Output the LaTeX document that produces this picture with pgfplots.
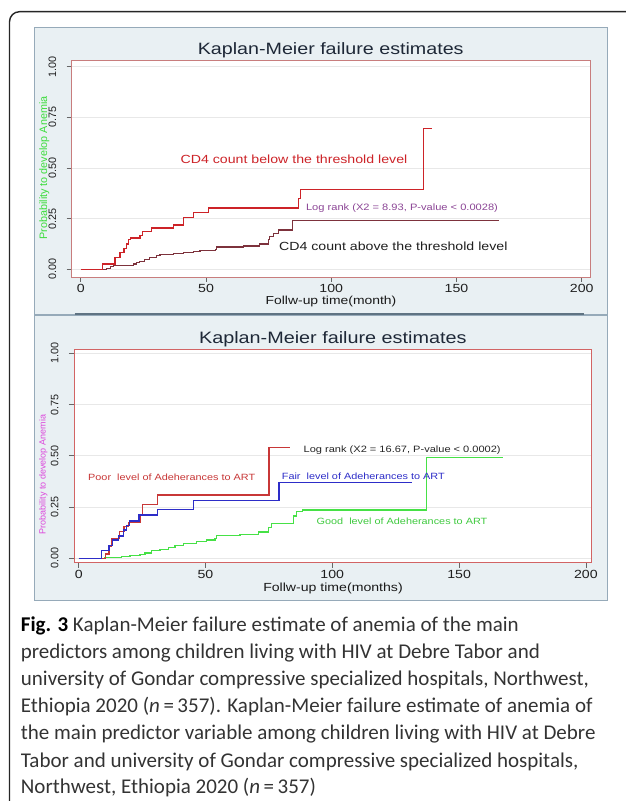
\documentclass[border=0pt]{standalone}
\usepackage{pgfplots}
\pgfplotsset{compat=1.18}
\usepackage{fontspec}
\setmainfont{Carlito}
\newfontfamily\st[FakeStretch=1.2]{Liberation Sans}
\newfontfamily\sr{Liberation Sans}
\newfontfamily\capfont{Carlito}
\definecolor{bgcol}{RGB}{233,240,243}
\definecolor{bgline}{RGB}{150,170,185}
\definecolor{divline}{RGB}{95,115,130}
\definecolor{boxtop}{RGB}{200,125,125}
\definecolor{boxbot}{RGB}{210,100,100}
\definecolor{kmred}{RGB}{205,35,40}
\definecolor{kmmaroon}{RGB}{125,50,60}
\definecolor{pred}{RGB}{200,55,55}
\definecolor{fblue}{RGB}{45,45,200}
\definecolor{ggreen}{RGB}{70,225,70}
\definecolor{lrpurple}{RGB}{140,70,150}
\definecolor{ttl}{RGB}{30,40,55}
\definecolor{ylgreen}{RGB}{60,220,60}
\definecolor{ylmag}{RGB}{220,70,220}
\pgfplotsset{
  kmaxis/.style={
    scale only axis, anchor=south west,
    tick align=outside, major tick length=5pt, tick pos=left,
    xtick={0,50,100,150,200}, ytick={0,0.25,0.5,0.75,1},
    yticklabels={0.00,0.25,0.50,0.75,1.00},
    ymajorgrids, grid style={draw=black!9, line width=0.7pt},
    tick style={draw=black!60, line width=0.7pt},
    /pgf/number format/assume math mode=true,
    xticklabel style={font=\st\fontsize{11.8}{13}\selectfont, text=black!88, anchor=base, yshift=-11.0pt},
    yticklabel style={font=\sr\fontsize{10.8}{12}\selectfont, text=black!88, xshift=-10.6pt, rotate=90, anchor=base},
    axis background/.style={fill=white},
  }
}
\begin{document}
\begin{tikzpicture}[x=1pt,y=1pt]
\useasboundingbox (0,0) rectangle (625,801);
% frame
\draw[line width=1.4pt, black!85, rounded corners=10pt] (9.5,-10) -- (9.5,789.3) -- (640,789.3);
% panel backgrounds
\draw[fill=bgcol, draw=bgline, line width=0.7pt] (34.5,487) rectangle (607.5,773.7);
\draw[fill=bgcol, draw=bgline, line width=0.7pt] (34.5,201) rectangle (607.5,486);
\draw[divline, line width=2pt] (74.5,486.5) -- (584,486.5);

% ---------- top panel ----------
\begin{axis}[kmaxis, at={(71.7pt,524pt)}, width=519pt, height=217pt,
  xmin=-3.63, xmax=203.55, ymin=-0.038, ymax=1.033,
  axis line style={draw=boxtop, line width=0.8pt}]
\addplot[const plot, kmmaroon, line width=1.1pt] coordinates {
(0,0) (10.3,0.005) (11.7,0.013) (13.0,0.018) (21.2,0.026) (22.3,0.033) (23.6,0.039) (25.6,0.049) (27.6,0.057) (30.3,0.066) (31.6,0.072) (36.9,0.079) (40.9,0.084) (44.9,0.088) (47.6,0.092) (53.6,0.099) (54.2,0.110) (64.9,0.115) (71.5,0.125) (74.9,0.148) (75.5,0.161) (76.9,0.178) (78.8,0.194) (84.6,0.243) (167.1,0.243)};
\addplot[const plot, kmred, line width=1.3pt] coordinates {
(0,0) (8.7,0.026) (13.6,0.059) (15.6,0.082) (17.2,0.104) (18.3,0.125) (19.0,0.148) (19.9,0.155) (23.6,0.166) (24.7,0.185) (28.3,0.204) (36.9,0.218) (40.9,0.257) (44.9,0.280) (50.9,0.302) (86.8,0.35) (87.8,0.395) (136.7,0.696) (140.1,0.696)};
\end{axis}

% ---------- bottom panel ----------
\begin{axis}[kmaxis, at={(74pt,238.3pt)}, width=517.1pt, height=213.4pt,
  xmin=-1.85, xmax=202.05, ymin=-0.021, ymax=1.0195,
  axis line style={draw=boxbot, line width=0.8pt}]
\addplot[const plot, ggreen, line width=1.3pt] coordinates {
(0,0) (10.4,0.003) (12.3,0.005) (16.9,0.008) (20.2,0.013) (24.2,0.019) (26.1,0.027) (28.8,0.037) (32.1,0.045) (35.3,0.054) (38.0,0.063) (41.3,0.073) (46.5,0.081) (50.5,0.089) (53.7,0.098) (54.4,0.110) (63.6,0.115) (70.8,0.128) (74.8,0.150) (76.0,0.171) (84.6,0.206) (86.0,0.227) (88.3,0.236) (137.2,0.493) (167.4,0.493)};
\addplot[const plot, pred, line width=1.3pt] coordinates {
(0,0) (10.5,0.021) (11.9,0.058) (13.0,0.098) (16.0,0.130) (17.9,0.154) (19.6,0.174) (24.2,0.213) (25.2,0.263) (31.1,0.309) (75.0,0.541) (83.2,0.541)};
\addplot[const plot, fblue, line width=1.3pt] coordinates {
(0,0) (8.9,0.040) (12.0,0.062) (13.3,0.089) (15.6,0.109) (17.6,0.138) (18.9,0.162) (20.0,0.182) (23.8,0.211) (31.1,0.237) (45.2,0.281) (79.0,0.369) (131.3,0.369)};
\end{axis}

% ---------- texts top ----------
\node[anchor=base, text=ttl, font=\st\fontsize{16.4}{18}\selectfont, inner sep=0] at (330.7,746.7) {Kaplan-Meier failure estimates};
\node[anchor=base, text=black!90, font=\st\fontsize{11.6}{13}\selectfont, inner sep=0] at (331,496.5) {Follw-up time(month)};
\node[rotate=90, text=ylgreen, font=\sr\fontsize{10.8}{12}\selectfont, inner sep=0] at (44.3,633) {Probability to develop Anemia};
\node[anchor=base, text=kmred, font=\st\fontsize{11.8}{13}\selectfont, inner sep=0] at (294,637) {CD4 count below the threshold level};
\node[anchor=base, text=lrpurple, font=\st\fontsize{9.25}{11}\selectfont, inner sep=0] at (402,590.7) {Log rank (X2 = 8.93, P-value < 0.0028)};
\node[anchor=base, text=black!88, font=\st\fontsize{11.8}{13}\selectfont, inner sep=0] at (393.3,550) {CD4 count above the threshold level};

% ---------- texts bottom ----------
\node[anchor=base, text=ttl, font=\st\fontsize{16.5}{18}\selectfont, inner sep=0] at (332.8,457.3) {Kaplan-Meier failure estimates};
\node[anchor=base, text=black!90, font=\st\fontsize{11.75}{13}\selectfont, inner sep=0] at (333,209) {Follw-up time(months)};
\node[rotate=90, text=ylmag, font=\sr\fontsize{9}{11}\selectfont, inner sep=0] at (43.3,326.5) {Probability to develop Anemia};
\node[anchor=base, text=pred, font=\st\fontsize{9.05}{11}\selectfont, inner sep=0] at (171.7,320.7) {Poor\ \ level of Adeherances to ART};
\node[anchor=base, text=fblue, font=\st\fontsize{9.05}{11}\selectfont, inner sep=0] at (363.3,321) {Fair\ \ level of Adeherances to ART};
\node[anchor=base, text=ggreen!90!black, font=\st\fontsize{9.05}{11}\selectfont, inner sep=0] at (402,276) {Good\ \ level of Adeherances to ART};
\node[anchor=base, text=black!85, font=\st\fontsize{9.2}{11}\selectfont, inner sep=0] at (402.2,348.3) {Log rank (X2 = 16.67, P-value < 0.0002)};

% ---------- caption ----------
\begin{scope}[every node/.style={anchor=base west, inner sep=0, text=black!80, font=\capfont\fontsize{21}{24}\selectfont}]
\node at (20.7,169) {\textbf{\color{black}Fig. 3} Kaplan-Meier failure estimate of anemia of the main};
\node at (20.7,142) {predictors among children living with HIV at Debre Tabor and};
\node at (20.7,115) {university of Gondar compressive specialized hospitals, Northwest,};
\node at (20.7,88) {Ethiopia 2020 (\textit{n}\,=\,357). Kaplan-Meier failure estimate of anemia of};
\node at (20.7,61) {the main predictor variable among children living with HIV at Debre};
\node at (20.7,34) {Tabor and university of Gondar compressive specialized hospitals,};
\node at (20.7,7) {Northwest, Ethiopia 2020 (\textit{n}\,=\,357)};
\end{scope}
\end{tikzpicture}
\end{document}
